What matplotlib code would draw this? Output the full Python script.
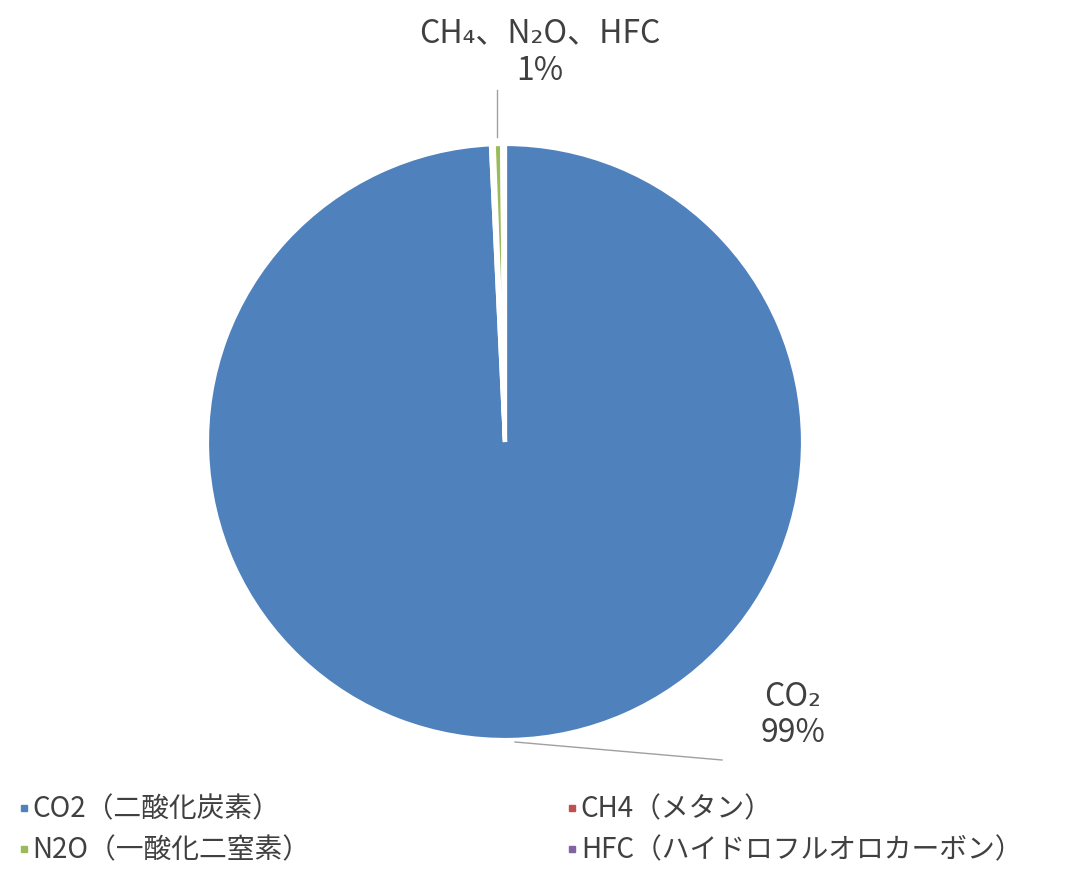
import matplotlib
matplotlib.use("Agg")
import matplotlib.pyplot as plt
from matplotlib.lines import Line2D

plt.rcParams['font.family'] = ['Noto Sans CJK JP', 'DejaVu Sans']

categories = ["CO2（二酸化炭素）", "CH4（メタン）", "N2O（一酸化二窒素）", "HFC（ハイドロフルオロカーボン）"]
values = [98.7, 0.15, 0.45, 0.15]
colors = ["#4F81BD", "#C0504D", "#9BBB59", "#8064A2"]
label_small = "CH₄、N₂O、HFC\n1%"
label_co2 = "CO₂\n99%"
text_color = "#404040"

W, H = 1084, 872
fig = plt.figure(figsize=(W / 100, H / 100), dpi=100)
cx, cy, r = 505, 442, 298
ax = fig.add_axes([(cx - r) / W, (H - cy - r) / H, 2 * r / W, 2 * r / H])
ax.pie(values, colors=colors, startangle=90, counterclock=False,
       wedgeprops=dict(edgecolor="white", linewidth=3.0), radius=1.0)
ax.set_xlim(-1, 1)
ax.set_ylim(-1, 1)
ax.set_aspect('equal')
ax.axis('off')

def px(x, y):
    return ((x - cx) / r, (cy - y) / r)

# small-gas label
ax.text(*px(540, 52), label_small, ha='center', va='center', fontsize=23,
        color=text_color, linespacing=1.2, clip_on=False)
p1, p2 = px(497, 90), px(497, 137)
ax.plot([p1[0], p2[0]], [p1[1], p2[1]], color='#A0A0A0', lw=1, clip_on=False)

# CO2 label
ax.text(*px(793, 715), label_co2, ha='center', va='center', fontsize=23,
        color=text_color, linespacing=1.2, clip_on=False)
p1, p2 = px(515, 742), px(722, 760)
ax.plot([p1[0], p2[0]], [p1[1], p2[1]], color='#A0A0A0', lw=1, clip_on=False)

order = [0, 2, 1, 3]
handles = [Line2D([0], [0], marker='s', linestyle='none', markersize=5,
                  markerfacecolor=colors[i], markeredgecolor=colors[i]) for i in order]
labels = [categories[i] for i in order]
fig.legend(handles, labels, ncol=2, loc='lower left',
           bbox_to_anchor=(0.0, -0.012), frameon=False, fontsize=20,
           labelcolor=text_color, handlelength=0.5, handletextpad=0.05,
           columnspacing=9.2, labelspacing=0.4, borderaxespad=0.2)

fig.savefig("out.png", dpi=100, facecolor='white')
